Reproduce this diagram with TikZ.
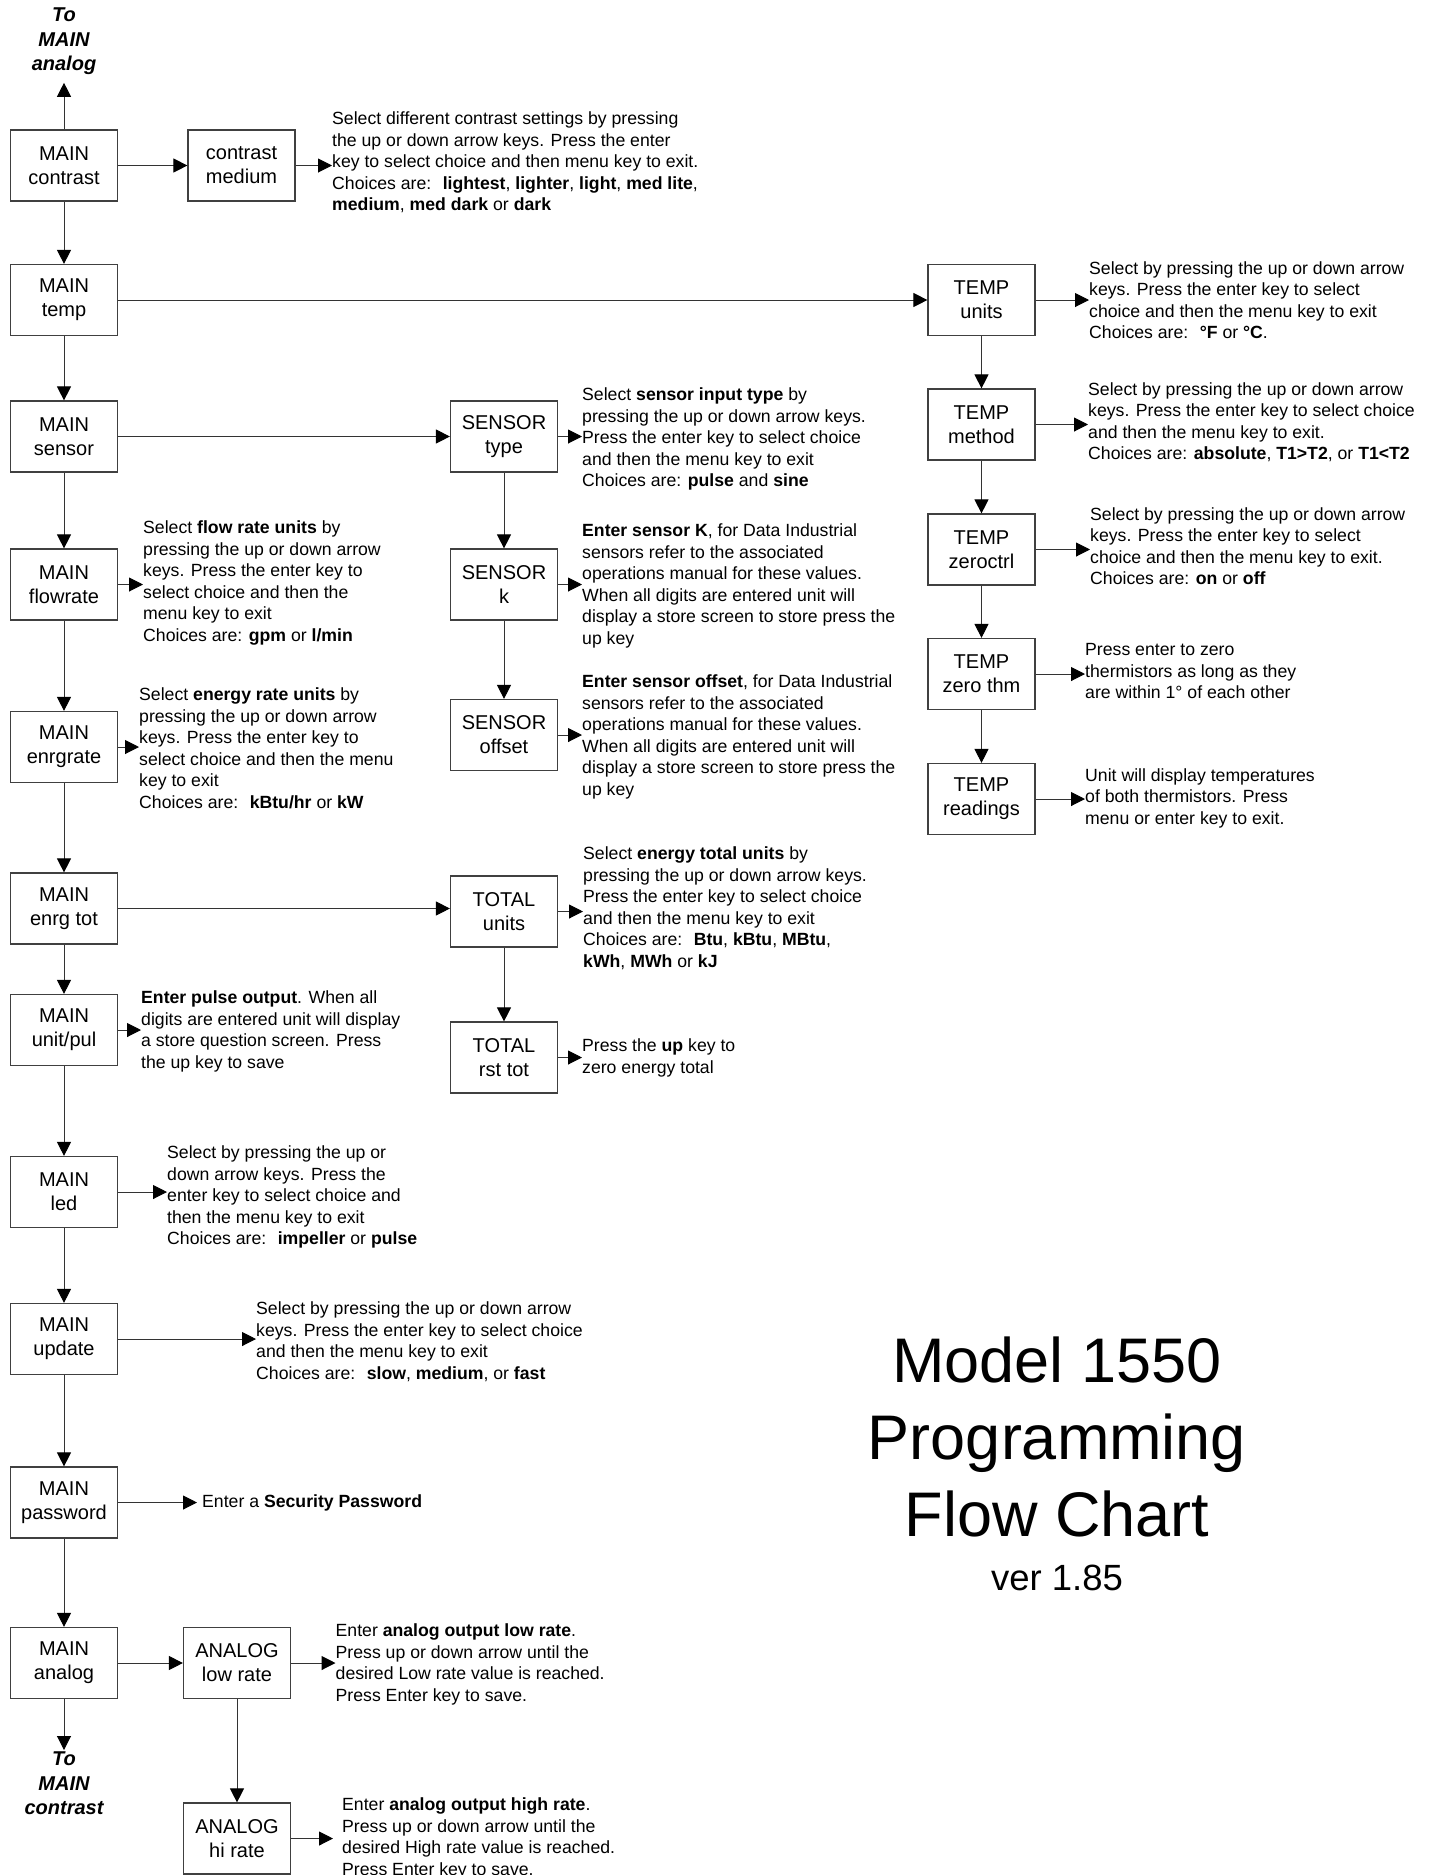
\documentclass[tikz,border=0pt]{standalone}
\usepackage{fontspec}
\setmainfont{Liberation Sans}
\usetikzlibrary{arrows.meta}

\begin{document}
\begin{tikzpicture}[x = 1pt, y = -1pt,
  box/.style = {draw = black!75, line width = 1.2pt, minimum width = 107pt, minimum height = 71pt,
    align = center, inner sep = 0pt, font = \fontsize{20}{24}\selectfont},
  note/.style = {anchor = north west, align = left, inner sep = 0pt, font = \fontsize{17.66}{21.5}\selectfont},
  goto/.style = {anchor = north, align = center, inner sep = 0pt, font = \fontsize{20}{24.5}\selectfont\bfseries\itshape},
  arr/.style = {-{Triangle[length = 14pt, width = 14pt, color = black]}, line width = 1pt, draw = black!80}]
\useasboundingbox (0, 0) rectangle (1432, 1875);

% main column
\node[box] (mcontrast) at (64, 165.5) {MAIN\\contrast};
\node[box] (mtemp) at (64, 300) {MAIN\\temp};
\node[box] (msensor) at (64, 436.5) {MAIN\\sensor};
\node[box] (mflow) at (64, 584.5) {MAIN\\flowrate};
\node[box] (menrate) at (64, 747) {MAIN\\enrgrate};
\node[box] (menrtot) at (64, 908.5) {MAIN\\enrg tot};
\node[box] (munit) at (64, 1030) {MAIN\\unit/pul};
\node[box] (mled) at (64, 1192) {MAIN\\led};
\node[box] (mupdate) at (64, 1339) {MAIN\\update};
\node[box] (mpass) at (64, 1502.5) {MAIN\\password};
\node[box] (manalog) at (64, 1663) {MAIN\\analog};
\node[goto] (toanalog) at (64, 8) {To\\MAIN\\analog};
\node[goto] (tocontrast) at (64, 1752) {To\\MAIN\\contrast};

% sub menus
\node[box] (cmedium) at (241.5, 165.5) {contrast\\medium};
\node[box] (stype) at (504, 436.5) {SENSOR\\type};
\node[box] (sk) at (504, 584.5) {SENSOR\\k};
\node[box] (soffset) at (504, 735) {SENSOR\\offset};
\node[box] (tunits) at (504, 911.5) {TOTAL\\units};
\node[box] (trst) at (504, 1057.5) {TOTAL\\rst tot};
\node[box] (alow) at (237, 1663) {ANALOG\\low rate};
\node[box] (ahi) at (237, 1838.5) {ANALOG\\hi rate};
\node[box] (tmpunits) at (981.5, 300) {TEMP\\units};
\node[box] (tmpmethod) at (981.5, 424.5) {TEMP\\method};
\node[box] (tmpzero) at (981.5, 549.5) {TEMP\\zeroctrl};
\node[box] (tmpthm) at (981.5, 674) {TEMP\\zero thm};
\node[box] (tmpread) at (981.5, 799) {TEMP\\readings};

% notes
\node[note] (cmediumtxt) at (332, 111.5) {Select different contrast settings by pressing\\
  the up or down arrow keys. Press the enter\\
  key to select choice and then menu key to exit.\\
  Choices are:~ \textbf{lightest}, \textbf{lighter}, \textbf{light}, \textbf{med lite},\\
  \textbf{medium}, \textbf{med dark} or \textbf{dark}};
\node[note] (tmpunitstxt) at (1089, 261) {Select by pressing the up or down arrow\\
  keys. Press the enter key to select\\
  choice and then the menu key to exit\\
  Choices are:~ \textbf{°F} or \textbf{°C}.};
\node[note] (tmpmethodtxt) at (1088, 382) {Select by pressing the up or down arrow\\
  keys. Press the enter key to select choice\\
  and then the menu key to exit.\\
  Choices are: \textbf{absolute}, \textbf{T1>T2}, or \textbf{T1<T2}};
\node[note] (tmpzerotxt) at (1090, 507) {Select by pressing the up or down arrow\\
  keys. Press the enter key to select\\
  choice and then the menu key to exit.\\
  Choices are: \textbf{on} or \textbf{off}};
\node[note] (tmpthmtxt) at (1085, 643.5) {Press enter to zero\\
  thermistors as long as they\\
  are within 1° of each other};
\node[note] (tmpreadtxt) at (1085, 768) {Unit will display temperatures\\
  of both thermistors. Press\\
  menu or enter key to exit.};
\node[note] (stypetxt) at (582, 387.5) {Select \textbf{sensor input type} by\\
  pressing the up or down arrow keys.\\
  Press the enter key to select choice\\
  and then the menu key to exit\\
  Choices are: \textbf{pulse} and \textbf{sine}};
\node[note] (sktxt) at (582, 523.5) {\textbf{Enter sensor K}, for Data Industrial\\
  sensors refer to the associated\\
  operations manual for these values.\\
  When all digits are entered unit will\\
  display a store screen to store press the\\
  up key};
\node[note] (soffsettxt) at (582, 674.5) {\textbf{Enter sensor offset}, for Data Industrial\\
  sensors refer to the associated\\
  operations manual for these values.\\
  When all digits are entered unit will\\
  display a store screen to store press the\\
  up key};
\node[note] (tunitstxt) at (583, 846.5) {Select \textbf{energy total units} by\\
  pressing the up or down arrow keys.\\
  Press the enter key to select choice\\
  and then the menu key to exit\\
  Choices are:~ \textbf{Btu}, \textbf{kBtu}, \textbf{MBtu},\\
  \textbf{kWh}, \textbf{MWh} or \textbf{kJ}};
\node[note] (trsttxt) at (582, 1038.5) {Press the \textbf{up} key to\\
  zero energy total};
\node[note] (mflowtxt) at (143, 520.5) {Select \textbf{flow rate units} by\\
  pressing the up or down arrow\\
  keys. Press the enter key to\\
  select choice and then the\\
  menu key to exit\\
  Choices are: \textbf{gpm} or \textbf{l/min}};
\node[note] (menratetxt) at (139, 687.5) {Select \textbf{energy rate units} by\\
  pressing the up or down arrow\\
  keys. Press the enter key to\\
  select choice and then the menu\\
  key to exit\\
  Choices are:~ \textbf{kBtu/hr} or \textbf{kW}};
\node[note] (munittxt) at (141, 990.5) {\textbf{Enter pulse output}. When all\\
  digits are entered unit will display\\
  a store question screen. Press\\
  the up key to save};
\node[note] (mledtxt) at (167, 1145.5) {Select by pressing the up or\\
  down arrow keys. Press the\\
  enter key to select choice and\\
  then the menu key to exit\\
  Choices are:~ \textbf{impeller} or \textbf{pulse}};
\node[note] (mupdatetxt) at (256, 1301.5) {Select by pressing the up or down arrow\\
  keys. Press the enter key to select choice\\
  and then the menu key to exit\\
  Choices are:~ \textbf{slow}, \textbf{medium}, or \textbf{fast}};
\node[note, anchor = west] (mpasstxt) at (202, 1503) {Enter a \textbf{Security Password}};
\node[note] (alowtxt) at (335.5, 1623.5) {Enter \textbf{analog output low rate}.\\
  Press up or down arrow until the\\
  desired Low rate value is reached.\\
  Press Enter key to save.};
\node[note] (ahitxt) at (342, 1797.5) {Enter \textbf{analog output high rate}.\\
  Press up or down arrow until the\\
  desired High rate value is reached.\\
  Press Enter key to save.};

% title
\node (title) at (1057, 1337) [anchor = north, align = center, inner sep = 0pt,
  font = \fontsize{63}{77}\selectfont] {Model 1550\\Programming\\Flow Chart};
\node (version) at (1057, 1578) [inner sep = 0pt, font = \fontsize{36.5}{44}\selectfont] {ver 1.85};

% main column flow
\draw[arr, shorten > = 7.5pt] (mcontrast) -- (toanalog);
\draw[arr] (mcontrast) -- (mtemp);
\draw[arr] (mtemp) -- (msensor);
\draw[arr] (msensor) -- (mflow);
\draw[arr] (mflow) -- (menrate);
\draw[arr] (menrate) -- (menrtot);
\draw[arr] (menrtot) -- (munit);
\draw[arr] (munit) -- (mled);
\draw[arr] (mled) -- (mupdate);
\draw[arr] (mupdate) -- (mpass);
\draw[arr] (mpass) -- (manalog);
\draw[arr, shorten > = 2pt] (manalog) -- (tocontrast);

% into sub menus
\draw[arr] (mcontrast) -- (cmedium);
\draw[arr] (mtemp) -- (tmpunits);
\draw[arr] (msensor) -- (stype);
\draw[arr] (menrtot.east) -- (menrtot.east -| tunits.west);
\draw[arr] (manalog) -- (alow);
\draw[arr] (stype) -- (sk);
\draw[arr] (sk) -- (soffset);
\draw[arr] (tunits) -- (trst);
\draw[arr] (alow) -- (ahi);
\draw[arr] (tmpunits) -- (tmpmethod);
\draw[arr] (tmpmethod) -- (tmpzero);
\draw[arr] (tmpzero) -- (tmpthm);
\draw[arr] (tmpthm) -- (tmpread);

% to the notes
\draw[arr] (cmedium.east) -- (cmedium.east -| cmediumtxt.west);
\draw[arr] (tmpunits.east) -- (tmpunits.east -| tmpunitstxt.west);
\draw[arr] (tmpmethod.east) -- (tmpmethod.east -| tmpmethodtxt.west);
\draw[arr] (tmpzero.east) -- (tmpzero.east -| tmpzerotxt.west);
\draw[arr] (tmpthm.east) -- (tmpthm.east -| tmpthmtxt.west);
\draw[arr] (tmpread.east) -- (tmpread.east -| tmpreadtxt.west);
\draw[arr] (stype.east) -- (stype.east -| stypetxt.west);
\draw[arr] (sk.east) -- (sk.east -| sktxt.west);
\draw[arr] (soffset.east) -- (soffset.east -| soffsettxt.west);
\draw[arr] (tunits.east) -- (tunits.east -| tunitstxt.west);
\draw[arr] (trst.east) -- (trst.east -| trsttxt.west);
\draw[arr] (mflow.east) -- (mflow.east -| mflowtxt.west);
\draw[arr] (menrate.east) -- (menrate.east -| menratetxt.west);
\draw[arr] (munit.east) -- (munit.east -| munittxt.west);
\draw[arr] (mled.east) -- (mled.east -| mledtxt.west);
\draw[arr] (mupdate.east) -- (mupdate.east -| mupdatetxt.west);
\draw[arr] (mpass.east) -- ([xshift = -5pt]mpass.east -| mpasstxt.west);
\draw[arr] (alow.east) -- (alow.east -| alowtxt.west);
\draw[arr] (ahi.east) -- ([xshift = -9pt]ahi.east -| ahitxt.west);
\end{tikzpicture}
\end{document}
